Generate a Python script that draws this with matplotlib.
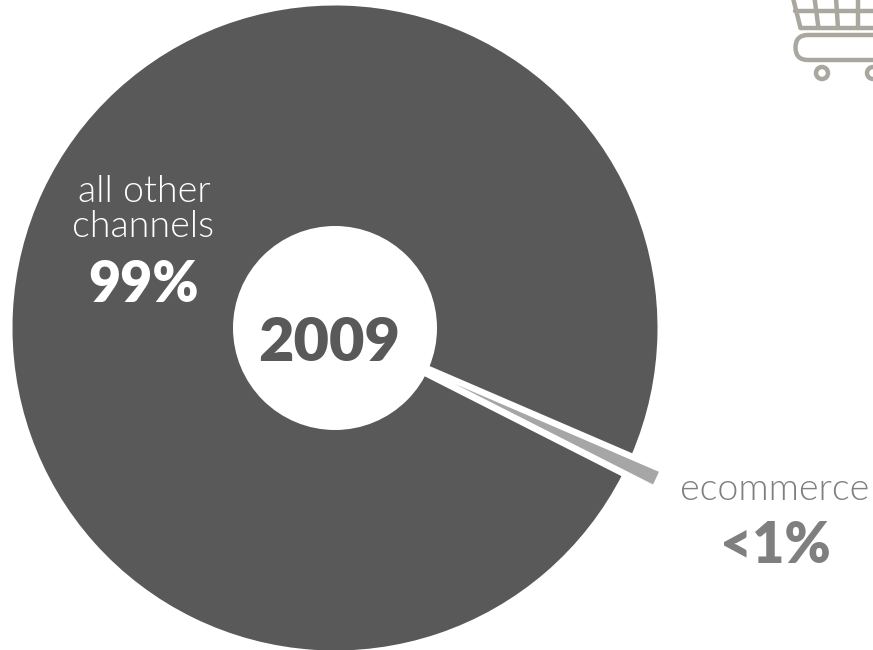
import matplotlib
matplotlib.use("Agg")
import matplotlib.pyplot as plt
from matplotlib.patches import Circle, FancyBboxPatch
from matplotlib.lines import Line2D

# channel shares of retail sales, 2009 (percent)
channels = ["ecommerce", "all other channels"]
shares = [1, 99]
share_labels = ["<1%", "99%"]
year_label = "2009"

DARK = "#595959"
LIGHT = "#A6A6A6"
MID = "#7F7F7F"
ICON = "#A9A79E"

W, H = 873, 650
fig = plt.figure(figsize=(W / 100, H / 100), dpi=100)
ax = fig.add_axes([0, 0, 1, 1])

# slices run counterclockwise from the start angle; centre the small one at -25.1 degrees
mid_angle = -25.1
start = mid_angle - shares[0] * 3.6 / 2

ax.pie(shares, colors=["none", DARK], startangle=start, radius=325,
       center=(335, H - 328), frame=False,
       wedgeprops=dict(edgecolor="white", linewidth=3.6))
# the ecommerce slice, pulled out along its own bisector
ax.pie(shares, colors=[LIGHT, "none"], startangle=start, radius=222,
       center=(455, H - 384), frame=False,
       wedgeprops=dict(edgecolor="none", linewidth=0))
ax.set_xlim(0, W)
ax.set_ylim(0, H)
ax.set_aspect("equal")
ax.axis("off")

ax.add_patch(Circle((335, H - 328), 102, fc="white", ec="none", zorder=3))

fam = ["Lato", "DejaVu Sans"]
ax.text(329, H - 343, year_label, ha="center", va="center", fontsize=44,
        fontweight=800, color=DARK, family=fam, zorder=4)
ax.text(144, H - 192, "all other", ha="center", va="center", fontsize=27,
        fontweight=300, color="white", family=fam, zorder=4)
ax.text(143, H - 227, "channels", ha="center", va="center", fontsize=27,
        fontweight=300, color="white", family=fam, zorder=4)
ax.text(144, H - 285, share_labels[1], ha="center", va="center", fontsize=40,
        fontweight=800, color="white", family=fam, zorder=4)
ax.text(775, H - 490, channels[0], ha="center", va="center", fontsize=27,
        fontweight=300, color=MID, family=fam, zorder=4)
ax.text(775, H - 546, share_labels[0], ha="center", va="center", fontsize=40,
        fontweight=800, color=MID, family=fam, zorder=4)

# shopping-cart pictogram in the top corner
lw = 3.2


def seg(x0, y0, x1, y1):
    ax.add_line(Line2D([x0, x1], [H - y0, H - y1], color=ICON, lw=lw,
                       solid_capstyle="round"))


seg(793, -2, 800.5, 28)
seg(800.5, 28, 880, 28)
seg(795, 11, 880, 11)
for xa, xb in [(814.5, 818.5), (836, 838), (858, 858)]:
    seg(xa, -2, xb, 28)
ax.add_patch(FancyBboxPatch((808, H - 47.5), 90, 0, boxstyle="round,pad=12.5",
                            fc="none", ec=ICON, lw=lw))
ax.add_patch(Circle((822, H - 73), 6, fc="none", ec=ICON, lw=lw))
ax.add_patch(Circle((873, H - 73), 6, fc="none", ec=ICON, lw=lw))

fig.savefig("out.png", dpi=100)
